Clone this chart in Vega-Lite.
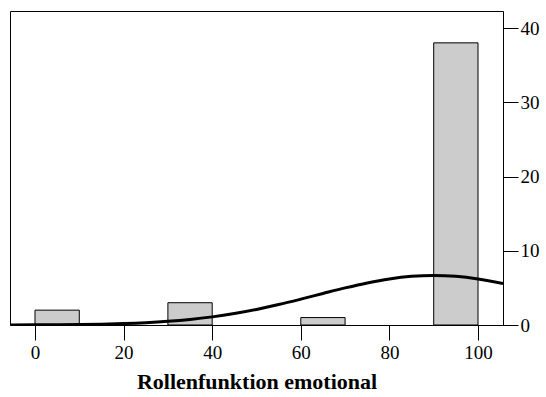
{
  "$schema": "https://vega.github.io/schema/vega-lite/v6.json",
  "width": 493,
  "height": 314,
  "autosize": {"type": "none"},
  "padding": {"left": 10, "top": 11, "right": 43, "bottom": 72},
  "background": "white",
  "config": {
    "view": {"stroke": "black", "strokeWidth": 1},
    "font": "Liberation Serif"
  },
  "datasets": {
    "bins": [
      {"start": 0, "end": 10, "count": 2},
      {"start": 30, "end": 40, "count": 3},
      {"start": 60, "end": 70, "count": 1},
      {"start": 90, "end": 100, "count": 38}
    ],
    "curve": [
      {"x": -5.64, "density": 0.009},
      {"x": 0, "density": 0.019},
      {"x": 5, "density": 0.036},
      {"x": 10, "density": 0.065},
      {"x": 15, "density": 0.114},
      {"x": 20, "density": 0.193},
      {"x": 25, "density": 0.315},
      {"x": 30, "density": 0.494},
      {"x": 35, "density": 0.749},
      {"x": 40, "density": 1.095},
      {"x": 45, "density": 1.543},
      {"x": 50, "density": 2.098},
      {"x": 55, "density": 2.751},
      {"x": 60, "density": 3.48},
      {"x": 65, "density": 4.245},
      {"x": 70, "density": 4.995},
      {"x": 75, "density": 5.669},
      {"x": 80, "density": 6.205},
      {"x": 85, "density": 6.551},
      {"x": 90, "density": 6.67},
      {"x": 95, "density": 6.551},
      {"x": 100, "density": 6.205},
      {"x": 105.64, "density": 5.6}
    ]
  },
  "layer": [
    {
      "data": {"name": "bins"},
      "mark": {"type": "bar", "orient": "vertical", "fill": "#cccccc", "stroke": "black", "strokeWidth": 1, "clip": true},
      "encoding": {
        "x": {
          "field": "start",
          "type": "quantitative",
          "scale": {"domain": [-5.64, 105.64], "nice": false, "zero": false, "padding": 0},
          "axis": {
            "values": [0, 20, 40, 60, 80, 100],
            "grid": false,
            "tickSize": 15,
            "tickColor": "black",
            "domainColor": "black",
            "labelFont": "Liberation Serif",
            "labelFontSize": 19,
            "labelColor": "black",
            "labelPadding": 3,
            "labelFlush": false,
            "title": "Rollenfunktion emotional",
            "titleFont": "Liberation Serif",
            "titleFontSize": 22,
            "titleFontWeight": "bold",
            "titleColor": "black",
            "titlePadding": 9
          }
        },
        "x2": {"field": "end"},
        "y": {
          "field": "count",
          "type": "quantitative",
          "scale": {"domain": [0, 42.29], "nice": false, "padding": 0},
          "axis": {
            "orient": "right",
            "values": [0, 10, 20, 30, 40],
            "grid": false,
            "domain": false,
            "tickSize": 15,
            "tickColor": "black",
            "labelFont": "Liberation Serif",
            "labelFontSize": 19,
            "labelColor": "black",
            "labelPadding": 2,
            "labelFlush": false,
            "labelOverlap": false,
            "title": null
          }
        },
        "y2": {"datum": 0}
      }
    },
    {
      "data": {"name": "curve"},
      "mark": {"type": "line", "color": "black", "strokeWidth": 3, "clip": true, "interpolate": "monotone"},
      "encoding": {
        "x": {"field": "x", "type": "quantitative"},
        "y": {"field": "density", "type": "quantitative"}
      }
    }
  ]
}
